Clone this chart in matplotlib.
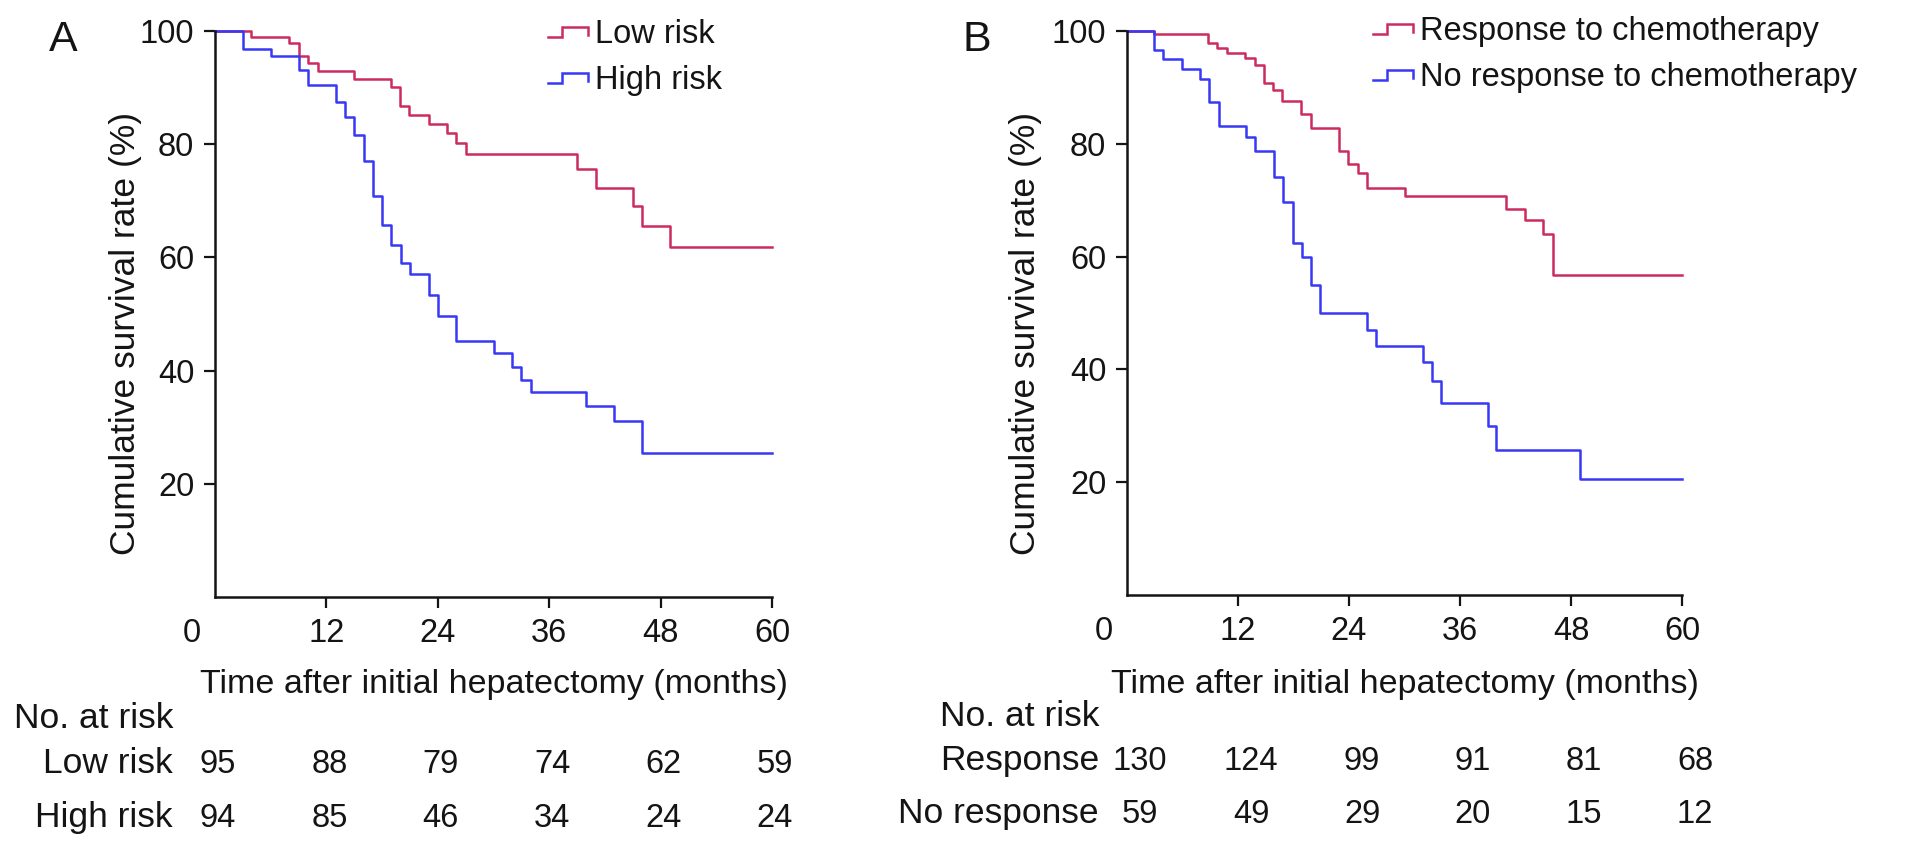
import matplotlib
matplotlib.use('Agg')
import matplotlib.pyplot as plt
from matplotlib.legend_handler import HandlerBase
from matplotlib.lines import Line2D
from matplotlib import transforms

plt.rcParams['font.family'] = ['Liberation Sans', 'DejaVu Sans']

# Kaplan-Meier curves (months, survival % after each drop)
low_t = [0, 3.9, 8.0, 9.0, 10.0, 11.1, 15.0, 19.0, 19.9, 20.9, 23.0, 25.0, 26.0, 27.0,
         39.0, 41.0, 45.0, 46.0, 49.0, 60]
low_s = [100, 99.0, 97.9, 95.6, 94.3, 93.0, 91.5, 90.1, 86.8, 85.2, 83.6, 81.9, 80.2, 78.3,
         75.6, 72.2, 69.0, 65.5, 61.9, 61.9]

high_t = [0, 3.0, 6.0, 9.0, 10.0, 13.0, 14.0, 15.0, 16.0, 17.0, 18.0, 19.0, 20.0, 21.0,
          23.1, 24.0, 26.0, 30.0, 32.0, 33.0, 34.0, 40.0, 43.0, 46.0, 60]
high_s = [100, 96.8, 95.6, 93.1, 90.5, 87.5, 84.8, 81.6, 77.1, 70.8, 65.8, 62.2, 59.0, 57.1,
          53.4, 49.6, 45.3, 43.1, 40.6, 38.4, 36.2, 33.7, 31.1, 25.5, 25.5]

resp_t = [0, 2.9, 8.8, 9.7, 10.8, 12.8, 13.8, 14.8, 15.8, 16.8, 18.8, 19.9, 22.9, 23.9,
          25.0, 25.9, 30.0, 41.0, 43.0, 45.0, 46.0, 60]
resp_s = [100, 99.4, 97.9, 96.9, 96.1, 95.2, 94.0, 90.8, 89.6, 87.5, 85.2, 82.8, 78.7, 76.4,
          74.9, 72.2, 70.8, 68.5, 66.5, 64.0, 56.7, 56.7]

nores_t = [0, 2.9, 3.9, 5.9, 7.9, 8.9, 9.9, 12.9, 13.8, 15.9, 16.9, 17.9, 18.9, 19.9, 20.9,
           25.9, 26.9, 32.0, 33.0, 33.9, 39.0, 39.9, 49.0, 60]
nores_s = [100, 96.6, 95.0, 93.2, 91.5, 87.4, 83.2, 81.2, 78.7, 74.2, 69.6, 62.4, 59.9, 55.0, 50.0,
           47.0, 44.2, 41.4, 37.9, 34.0, 29.9, 25.7, 20.6, 20.6]

# numbers at risk
risk_times = [0, 12, 24, 36, 48, 60]
low_risk_n = [95, 88, 79, 74, 62, 59]
high_risk_n = [94, 85, 46, 34, 24, 24]
resp_n = [130, 124, 99, 91, 81, 68]
nores_n = [59, 49, 29, 20, 15, 12]

x_ticks = [0, 12, 24, 36, 48, 60]
y_ticks = [20, 40, 60, 80, 100]

RED = '#CC2B5E'
BLUE = '#3838F5'
TXT = '#141414'
FS_TICK = 23.5
FS_LAB = 25.5
FS_XLAB = 24.5
FS_LEG = 23.5

W, H = 1913, 847


class StepHandler(HandlerBase):
    # little KM step symbol used in the legend
    def create_artists(self, legend, orig_handle, xdescent, ydescent, width, height,
                       fontsize, trans):
        x0, y0 = -xdescent, -ydescent
        xs = [x0, x0 + 0.36 * width, x0 + 0.36 * width, x0 + width, x0 + width]
        ys = [y0 + 0.25 * height, y0 + 0.25 * height, y0 + 0.68 * height,
              y0 + 0.68 * height, y0 + 0.35 * height]
        ln = Line2D(xs, ys, color=orig_handle.get_color(), lw=orig_handle.get_linewidth(),
                    solid_joinstyle='miter')
        ln.set_transform(trans)
        return [ln]


fig = plt.figure(figsize=(W / 100, H / 100), dpi=100)


def fy(px):
    return 1 - px / H


def panel(left_px, right_px, bottom_px, series, names, table, letter, letter_x,
          ylab_x, leg_xy, row_right, row_y, num_shift):
    ax = fig.add_axes([left_px / W, fy(bottom_px), (right_px - left_px) / W,
                       (bottom_px - 31) / H])
    handles = []
    for (t, s), col, name in zip(series, [RED, BLUE], names):
        ln, = ax.step(t, s, where='post', color=col, lw=1.8, clip_on=False, label=name)
        handles.append(ln)
    ax.set_xlim(0, 60)
    ax.set_ylim(0, 100)
    for sp in ['top', 'right']:
        ax.spines[sp].set_visible(False)
    for sp in ['left', 'bottom']:
        ax.spines[sp].set_linewidth(1.8)
        ax.spines[sp].set_color(TXT)
    ax.set_xticks(x_ticks)
    ax.set_yticks(y_ticks)
    ax.tick_params(axis='both', direction='out', length=8, width=1.6, colors=TXT,
                   labelsize=FS_TICK)
    ax.tick_params(axis='x', pad=7)
    ax.tick_params(axis='y', pad=7)
    # "0" sits left of the corner, no tick mark
    t0 = ax.xaxis.get_major_ticks()[0]
    t0.tick1line.set_visible(False)
    shift = transforms.ScaledTranslation(-0.23, 0, fig.dpi_scale_trans)
    t0.label1.set_transform(t0.label1.get_transform() + shift)

    ax.set_xlabel('Time after initial hepatectomy (months)', fontsize=FS_XLAB, color=TXT)
    ax.xaxis.set_label_coords(0.5, fy(669),
                              transform=transforms.blended_transform_factory(ax.transAxes, fig.transFigure))
    ax.xaxis.label.set_va('top')
    ax.set_ylabel('Cumulative survival rate (%)', fontsize=FS_LAB, color=TXT)
    ax.yaxis.set_label_coords(ylab_x / W, fy(333), transform=fig.transFigure)

    leg = ax.legend(handles=handles, handler_map={Line2D: StepHandler()}, loc='upper left',
                    bbox_to_anchor=(leg_xy[0] / W, fy(leg_xy[1])),
                    bbox_transform=fig.transFigure, frameon=False, fontsize=FS_LEG,
                    handlelength=1.22, handletextpad=0.22, labelspacing=0.45,
                    borderpad=0, borderaxespad=0)
    for tx in leg.get_texts():
        tx.set_color(TXT)

    fig.text(letter_x / W, fy(40), letter, fontsize=31, ha='center', va='center', color=TXT)

    # number at risk table
    tr = transforms.blended_transform_factory(ax.transData, fig.transFigure)
    off = transforms.ScaledTranslation(num_shift / 100, 0, fig.dpi_scale_trans)
    fig.text(row_right / W, fy(row_y[0]), 'No. at risk', fontsize=FS_LAB, ha='right',
             va='baseline', color=TXT)
    for (lab, counts), yy in zip(table, row_y[1:]):
        fig.text(row_right / W, fy(yy), lab, fontsize=FS_LAB, ha='right', va='baseline',
                 color=TXT)
        for tt, n in zip(risk_times, counts):
            ax.text(tt, fy(yy), str(n), transform=tr + off, fontsize=FS_TICK, ha='center',
                    va='baseline', color=TXT, clip_on=False)
    return ax


panel(215, 772, 597, [(low_t, low_s), (high_t, high_s)], ['Low risk', 'High risk'],
      [('Low risk', low_risk_n), ('High risk', high_risk_n)], 'A', 63, 142,
      (548, 19), 173, [728, 773, 827], 3)

panel(1127, 1682, 595, [(resp_t, resp_s), (nores_t, nores_s)],
      ['Response to chemotherapy', 'No response to chemotherapy'],
      [('Response', resp_n), ('No response', nores_n)], 'B', 977, 1042,
      (1373, 16), 1099, [726, 770, 823], 13)

fig.savefig('out.png', dpi=100)
